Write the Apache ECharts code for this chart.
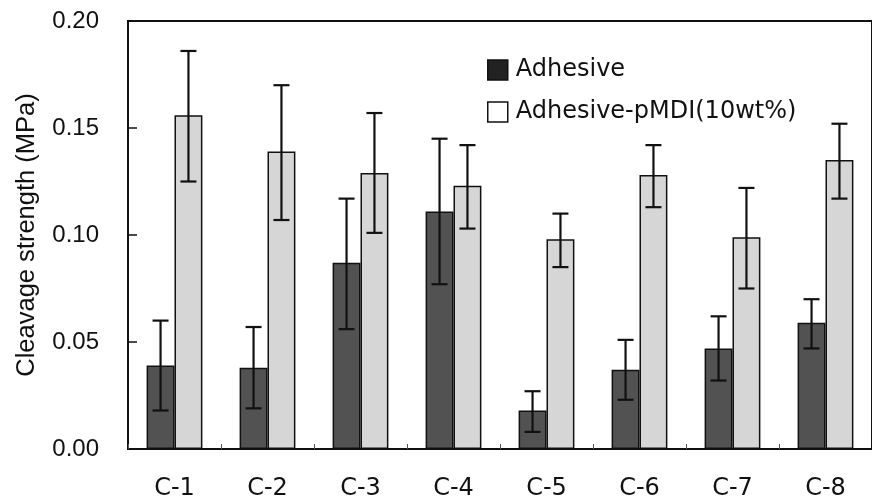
<!DOCTYPE html>
<html>
<head>
<meta charset="utf-8">
<script src="https://cdn.jsdelivr.net/npm/echarts@6/dist/echarts.min.js"></script>
<style>
  html, body { margin: 0; padding: 0; background: #fff; }
  #main { width: 872px; height: 501px; }
</style>
</head>
<body>
<div id="main"></div>
<script>
// data
var categories = ['C-1', 'C-2', 'C-3', 'C-4', 'C-5', 'C-6', 'C-7', 'C-8'];
var seriesNames = ['Adhesive', 'Adhesive-pMDI(10wt%)'];

var adhesive     = [0.039, 0.038, 0.087, 0.111, 0.018, 0.037, 0.047, 0.059];
var adhesiveLow  = [0.018, 0.019, 0.056, 0.077, 0.008, 0.023, 0.032, 0.047];
var adhesiveHigh = [0.060, 0.057, 0.117, 0.145, 0.027, 0.051, 0.062, 0.070];

var pmdi     = [0.156, 0.139, 0.129, 0.123, 0.098, 0.128, 0.099, 0.135];
var pmdiLow  = [0.125, 0.107, 0.101, 0.103, 0.085, 0.113, 0.075, 0.117];
var pmdiHigh = [0.186, 0.170, 0.157, 0.142, 0.110, 0.142, 0.122, 0.152];

var yTicks = [0, 0.05, 0.10, 0.15, 0.20];

var BAR_FRAC = 0.30; // bar width as part of category width

function errData(lo, hi) {
    var out = [];
    for (var i = 0; i < categories.length; i++) out.push([i, lo[i], hi[i]]);
    return out;
}

// error bar drawn through the axes, shifted to sit on its bar
function makeErrRender(side) {
    return function (params, api) {
        var i = api.value(0);
        var lo = api.coord([i, api.value(1)]);
        var hi = api.coord([i, api.value(2)]);
        var band = api.size([1, 0])[0];
        var x = lo[0] + side * band * BAR_FRAC / 2;
        var cap = 8;
        var st = { stroke: '#111', lineWidth: 2.2 };
        return {
            type: 'group',
            children: [
                { type: 'line', shape: { x1: x, y1: lo[1], x2: x, y2: hi[1] }, style: st },
                { type: 'line', shape: { x1: x - cap, y1: hi[1], x2: x + cap, y2: hi[1] }, style: st },
                { type: 'line', shape: { x1: x - cap, y1: lo[1], x2: x + cap, y2: lo[1] }, style: st }
            ]
        };
    };
}

var chart = echarts.init(document.getElementById('main'));
var option = {
    animation: false,
    backgroundColor: '#fff',
    textStyle: { fontFamily: 'Liberation Sans', color: '#111' },
    grid: {
        left: 128, top: 21, width: 755, height: 430,
        show: true, borderColor: '#111', borderWidth: 2
    },
    legend: {
        orient: 'vertical',
        left: 482, top: 53,
        icon: 'rect',
        itemWidth: 20, itemHeight: 20,
        itemGap: 18,
        textStyle: { fontFamily: 'DejaVu Sans', fontSize: 24, color: '#111', padding: [0, 0, 0, 3] },
        data: [
            { name: seriesNames[0], itemStyle: { color: '#222', borderColor: '#111', borderWidth: 1.5 } },
            { name: seriesNames[1], itemStyle: { color: '#fff', borderColor: '#111', borderWidth: 1.5 } }
        ]
    },
    xAxis: {
        type: 'category',
        data: categories,
        axisLine: { lineStyle: { color: '#111', width: 2 } },
        axisTick: { show: true, inside: true, length: 5, lineStyle: { color: '#555', width: 1 } },
        axisLabel: { fontSize: 24, margin: 28, color: '#111', fontFamily: 'DejaVu Sans' },
        splitLine: { show: false }
    },
    yAxis: {
        type: 'value',
        min: 0, max: 0.2, interval: 0.05,
        name: 'Cleavage strength (MPa)',
        nameLocation: 'middle',
        nameGap: 88,
        nameTextStyle: { fontSize: 25.5, color: '#111' },
        axisLine: { show: true, lineStyle: { color: '#111', width: 2 } },
        axisTick: { show: true, inside: true, length: 9, lineStyle: { color: '#111', width: 1.5 } },
        axisLabel: {
            fontSize: 24, margin: 29, color: '#111',
            formatter: function (v) { return v.toFixed(2); },
            customValues: yTicks
        },
        splitLine: { show: false }
    },
    series: [
        {
            name: seriesNames[0], type: 'bar', data: adhesive,
            barWidth: (BAR_FRAC * 100) + '%', barGap: '0%',
            itemStyle: { color: '#525252', borderColor: '#111', borderWidth: 1.5 }
        },
        {
            name: seriesNames[1], type: 'bar', data: pmdi,
            barWidth: (BAR_FRAC * 100) + '%', barGap: '0%',
            itemStyle: { color: '#d6d6d6', borderColor: '#111', borderWidth: 1.5 }
        },
        {
            type: 'custom', name: 'err0', data: errData(adhesiveLow, adhesiveHigh),
            renderItem: makeErrRender(-1), z: 10, silent: true
        },
        {
            type: 'custom', name: 'err1', data: errData(pmdiLow, pmdiHigh),
            renderItem: makeErrRender(1), z: 10, silent: true
        }
    ]
};
chart.setOption(option);
</script>
</body>
</html>
